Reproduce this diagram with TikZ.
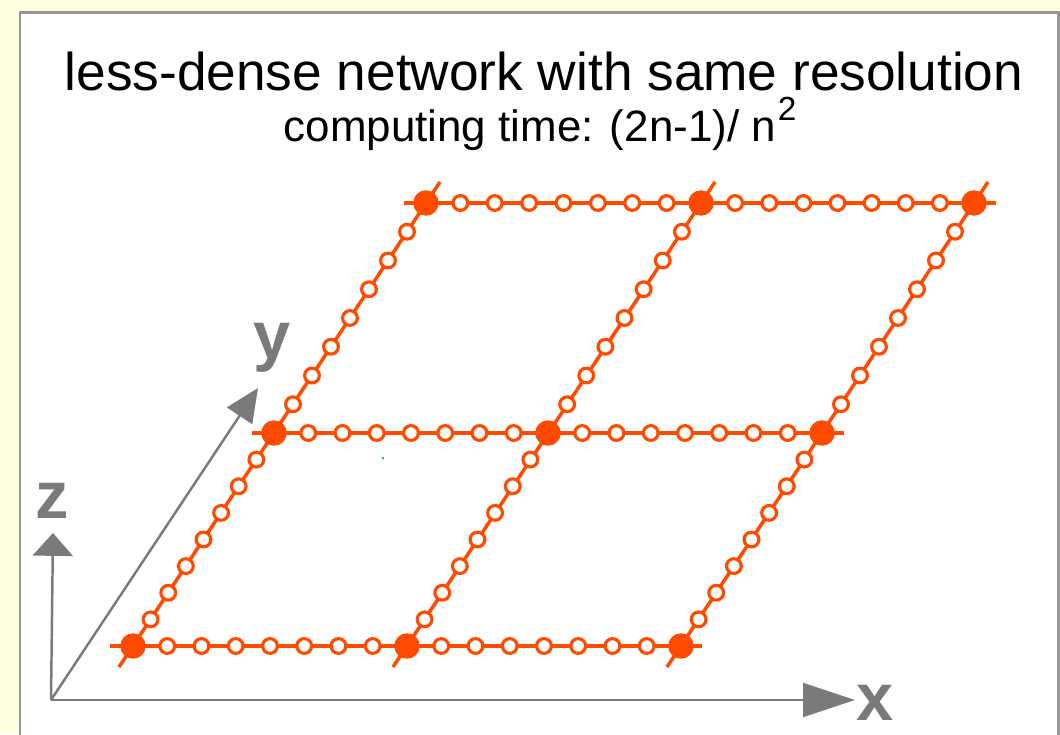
\documentclass[tikz,border=0pt]{standalone}
\usepackage{fontspec}
\setmainfont{Liberation Sans}
\usepackage{pgf,tikz}
\usepackage{xcolor}
\usetikzlibrary{arrows.meta,calc}
\definecolor{netorange}{RGB}{255,74,0}
\definecolor{axisgray}{RGB}{122,122,122}
\definecolor{framegray}{RGB}{150,150,150}
\definecolor{paper}{RGB}{255,255,226}
\definecolor{speck}{RGB}{20,140,255}

\begin{document}
\begin{tikzpicture}[x=0.02cm,y=0.02cm,
    full/.style={circle,fill=netorange,inner sep=0pt,minimum size=14.5pt},
    hollow/.style={circle,draw=netorange,fill=white,line width=1.8pt,inner sep=0pt,minimum size=8.4pt},
    net/.style={color=netorange,line width=2pt},
    axis/.style={axisgray,line width=1.4pt},
    lab/.style={text=axisgray,font=\fontsize{38}{38}\selectfont\bfseries,anchor=base}]
    \clip (0,0) rectangle (1060,734);
    \fill[paper] (0,0) rectangle (1060,734);
    \draw[framegray,line width=1.7pt,fill=white] (20,721) rectangle (1058,-20);
    \node[anchor=base,font=\fontsize{30.3}{30}\selectfont] (title) at (544,643) {less-dense network with same resolution};
    \node[anchor=base,font=\fontsize{25}{25}\selectfont] (subtitle) at (540,592) {computing time: (2n-1)/ n\kern1pt\raisebox{12pt}{\fontsize{19}{19}\selectfont 2}};
    \coordinate (O) at (51,34);
    \coordinate (X) at (855,34);
    \coordinate (Y) at (258,346);
    \coordinate (Z) at (53,201);
    \draw[axis,-{Triangle[length=29.6pt,width=19.3pt]}] (O) -- (X);
    \draw[axis,-{Triangle[length=19pt,width=17pt]}] (O) -- (Y);
    \draw[axis,-{Triangle[length=13pt,width=22.8pt]}] (O) -- (Z);
    \node[lab] (lx) at (875,14) {x};
    \node[lab] (ly) at (272,376) {y};
    \node[lab] (lz) at (52,216) {z};
    \coordinate (v_1) at (133,88);
    \coordinate (v_2) at (407,88);
    \coordinate (v_3) at (681,88);
    \coordinate (v_4) at (274,301);
    \coordinate (v_5) at (548,301);
    \coordinate (v_6) at (822,301);
    \coordinate (v_7) at (426,531);
    \coordinate (v_8) at (701,531);
    \coordinate (v_9) at (974,531);
    \coordinate (e_1) at (110,88);
    \coordinate (e_2) at (702,88);
    \coordinate (e_3) at (252,301);
    \coordinate (e_4) at (844,301);
    \coordinate (e_5) at (404,531);
    \coordinate (e_6) at (996,531);
    \coordinate (e_7) at (119,67);
    \coordinate (e_8) at (440,552);
    \coordinate (e_9) at (393,67);
    \coordinate (e_10) at (715,552);
    \coordinate (e_11) at (667,67);
    \coordinate (e_12) at (988,552);
    \draw[net] (e_1) -- (e_2) (e_3) -- (e_4) (e_5) -- (e_6);
    \draw[net] (e_7) -- (e_8) (e_9) -- (e_10) (e_11) -- (e_12);
    \foreach \a/\b in {v_1/v_2,v_2/v_3,v_4/v_5,v_5/v_6,v_7/v_8,v_8/v_9,v_1/v_4,v_4/v_7,v_2/v_5,v_5/v_8,v_3/v_6,v_6/v_9}
      \foreach \k in {1,...,7}
        \node[hollow] (o\a\b\k) at ($(\a)!\k/8!(\b)$) {};
    \foreach \p in {v_1,v_2,v_3,v_4,v_5,v_6,v_7,v_8,v_9}
      \node[full] (d\p) at (\p) {};
    \fill[speck] (383,276) circle (1.4);
	\end{tikzpicture}
\end{document}
